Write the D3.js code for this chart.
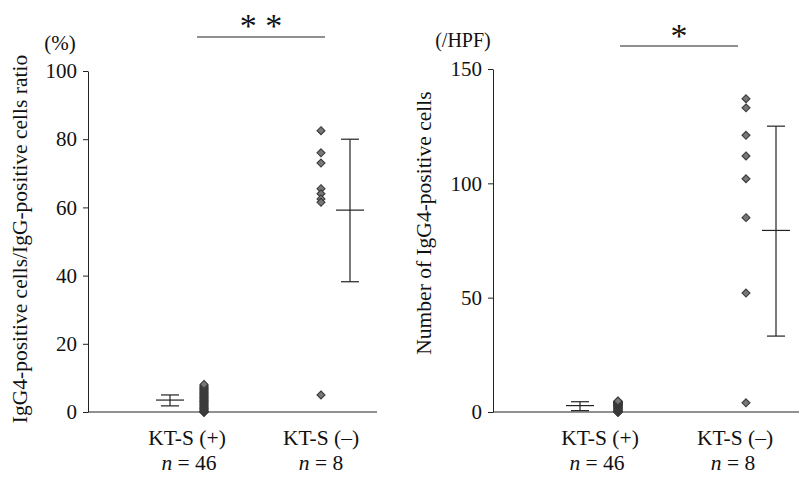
<!DOCTYPE html>
<html>
<head>
<meta charset="utf-8">
<script src="https://cdn.jsdelivr.net/npm/d3@7"></script>
<style>
  body { margin: 0; background: #fff; }
  svg { font-family: "Liberation Serif", "Times New Roman", serif; }
</style>
</head>
<body>
<div id="chart"></div>
<script>
// Data
const categories = ['KT-S (+)', 'KT-S (\u2013)'];
const groupN = [46, 8];

// left panel: IgG4+/IgG+ ratio (%)
const ratioPos = [0, 0, 0, 0, 0, 0.2, 0.4, 0.6, 0.8, 1, 1.1, 1.3, 1.5, 1.7, 1.9, 2.1, 2.3, 2.5, 2.7,
  2.9, 3, 3.2, 3.4, 3.6, 3.8, 4, 4.1, 4.3, 4.5, 4.7, 4.9, 5.1, 5.3, 5.5, 5.7, 5.9, 6.1, 6.3, 6.5,
  6.7, 6.9, 7.1, 7.3, 7.5, 7.8, 8.1];
const ratioNeg = [82.5, 76, 73, 65.5, 64, 62.5, 61.5, 5];
const ratioBars = [ // mean, lower, upper
  { mean: 3.5, lo: 1.8, hi: 5 },
  { mean: 59.2, lo: 38.2, hi: 80 }
];
const ratioTicks = [0, 20, 40, 60, 80, 100];

// right panel: IgG4-positive cells per HPF
const countPos = [0, 0, 0, 0, 0, 0, 0.3, 0.5, 0.7, 0.9, 1, 1.2, 1.4, 1.5, 1.7, 1.8, 2, 2.1, 2.3,
  2.4, 2.5, 2.7, 2.8, 2.9, 3, 3.1, 3.2, 3.3, 3.4, 3.5, 3.6, 3.7, 3.8, 3.9, 4, 4, 4.1, 4.2, 4.3,
  4.3, 4.4, 4.5, 4.5, 4.6, 4.7, 4.8];
const countNeg = [137, 133, 121, 112, 102, 85, 52, 4];
const countBars = [
  { mean: 2.8, lo: 0.6, hi: 4.5 },
  { mean: 79.4, lo: 33.2, hi: 125 }
];
const countTicks = [0, 50, 100, 150];

const W = 799, H = 479;
const svg = d3.select('#chart').append('svg').attr('width', W).attr('height', H);
const ink = '#222';

function drawPanel(cfg) {
  const g = svg.append('g');
  const y = d3.scaleLinear().domain(cfg.domain).range([412, cfg.top]);
  const x = d3.scalePoint().domain(categories).range(cfg.catRange);

  // y axis
  const yAxis = d3.axisLeft(y).tickValues(cfg.ticks).tickSize(5).tickSizeOuter(0).tickPadding(6);
  const ya = g.append('g').attr('transform', `translate(${cfg.axisX},0)`).call(yAxis);
  ya.select('.domain').attr('stroke', ink);
  ya.selectAll('.tick line').attr('stroke', ink);
  ya.selectAll('.tick text').attr('fill', '#111').style('font-size', '21px')
    .style('font-family', '"Liberation Serif", serif');

  // x baseline
  g.append('line').attr('x1', cfg.axisX).attr('x2', cfg.xEnd)
    .attr('y1', y(0)).attr('y2', y(0)).attr('stroke', ink);

  // units
  g.append('text').attr('x', cfg.unitX).attr('y', cfg.unitY).attr('text-anchor', 'middle')
    .style('font-size', cfg.unitSize).attr('fill', '#111').text(cfg.unit);

  // axis title
  g.append('text')
    .attr('transform', `translate(${cfg.titleX},${cfg.titleY}) rotate(-90)`)
    .attr('text-anchor', 'middle').attr('dominant-baseline', 'central')
    .style('font-size', '21.5px').attr('fill', '#111').text(cfg.title);

  // category labels
  categories.forEach((c, i) => {
    g.append('text').attr('x', x(c)).attr('y', 445).attr('text-anchor', 'middle')
      .style('font-size', '21.5px').attr('fill', '#111').text(c);
    const t = g.append('text').attr('x', x(c) + cfg.nShift[i]).attr('y', 470).attr('text-anchor', 'middle')
      .style('font-size', '21.5px').attr('fill', '#111');
    t.append('tspan').style('font-style', 'italic').text('n');
    t.append('tspan').text(` = ${groupN[i]}`);
  });

  // dots
  const diamond = d3.symbol().type(d3.symbolDiamond2).size(40);
  cfg.points.forEach((vals, i) => {
    g.append('g').selectAll('path').data(vals).enter().append('path')
      .attr('d', diamond)
      .attr('transform', d => `translate(${x(categories[i]) + cfg.dotOff[i]},${y(d)})`)
      .attr('fill', '#777').attr('stroke', '#3a3a3a').attr('stroke-width', 1.1);
  });

  // mean +/- SD bars
  cfg.bars.forEach((b, i) => {
    const cx = x(categories[i]) + cfg.barOff[i];
    const bg = g.append('g').attr('stroke', ink).attr('stroke-width', 1.2);
    bg.append('line').attr('x1', cx).attr('x2', cx).attr('y1', y(b.lo)).attr('y2', y(b.hi));
    bg.append('line').attr('x1', cx - 9).attr('x2', cx + 9).attr('y1', y(b.hi)).attr('y2', y(b.hi));
    bg.append('line').attr('x1', cx - 9).attr('x2', cx + 9).attr('y1', y(b.lo)).attr('y2', y(b.lo));
    bg.append('line').attr('x1', cx - 14).attr('x2', cx + 14).attr('y1', y(b.mean)).attr('y2', y(b.mean));
  });

  // significance
  g.append('line').attr('x1', cfg.sig[0]).attr('x2', cfg.sig[1])
    .attr('y1', cfg.sigY).attr('y2', cfg.sigY).attr('stroke', ink).attr('stroke-width', 1.2);
  g.append('text').attr('x', (cfg.sig[0] + cfg.sig[1]) / 2).attr('y', cfg.sigY + cfg.starDy)
    .attr('text-anchor', 'middle').style('font-size', '34px').attr('fill', '#111').text(cfg.stars);
}

drawPanel({
  domain: [0, 100], top: 71, ticks: ratioTicks, axisX: 88, xEnd: 377,
  catRange: [187, 321], dotOff: [17, 0], barOff: [-17, 29], nShift: [2, 0],
  points: [ratioPos, ratioNeg], bars: ratioBars,
  unit: '(%)', unitX: 60, unitY: 50, unitSize: '21px',
  title: 'IgG4-positive cells/IgG-positive cells ratio', titleX: 20, titleY: 239,
  sig: [197, 325], sigY: 37, stars: '* *', starDy: 0
});

drawPanel({
  domain: [0, 150], top: 69, ticks: countTicks, axisX: 493, xEnd: 799,
  catRange: [600, 735], dotOff: [18, 11], barOff: [-20, 41], nShift: [-3, -2],
  points: [countPos, countNeg], bars: countBars,
  unit: '(/HPF)', unitX: 463, unitY: 47, unitSize: '20px',
  title: 'Number of IgG4-positive cells', titleX: 424, titleY: 223,
  sig: [620, 738], sigY: 46, stars: '*', starDy: 1
});
</script>
</body>
</html>
